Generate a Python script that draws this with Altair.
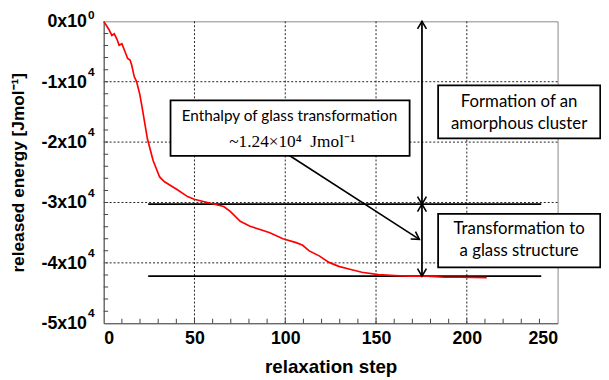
import altair as alt
import pandas as pd

# ---- curve ----
steps = [0, 2.7, 4.5, 5.8, 7.2, 8.5, 10, 11.8, 13.2, 14.5,
         15.4, 16.8, 18.1, 19.9, 21.2, 22.7, 24.1, 27.2, 30.8, 33.5,
         40.8, 46.2, 49.8, 58.9, 66.1, 69.7, 75.2, 80.6, 86.1, 91.5,
         98.7, 106, 109.6, 113.2, 118.7, 124.1, 129.5, 135, 142.2, 151.3,
         160.3, 169.4, 178.4, 187.5, 196.5, 211]
energy = [0, -1260, -2340, -2070, -2890, -3970, -3700, -5070, -6160, -6420,
          -7240, -9150, -9970, -12140, -14330, -17040, -19490, -23040, -25770, -26580,
          -27940, -29030, -29460, -30120, -30670, -31480, -33120, -33930, -34480, -35020,
          -36000, -36650, -37090, -38020, -38840, -39920, -40580, -41010, -41560, -41940,
          -42100, -42210, -42210, -42380, -42380, -42430]

# ---- axes ----
x_label_values = [0, 50, 100, 150, 200, 250]
y_label_values = [0, -10000, -20000, -30000, -40000, -50000]
y_label_base = ["0x10", "-1x10", "-2x10", "-3x10", "-4x10", "-5x10"]
y_label_exp = ["0", "4", "4", "4", "4", "4"]
x_grid = [50, 100, 150, 200]
y_grid = [-10000, -20000, -30000, -40000]
x_minor = list(range(10, 250, 10))
y_minor = list(range(-48000, 0, 2000))
x_title = "relaxation step"
y_title = "released energy [Jmol⁻¹]"

# ---- annotations ----
level_values = [-30280, -42210]
level_start = [24.5, 24.5]
level_end = [241, 241]
shaft_step = [175.3, 175.3]
shaft_from = [0, -30280]
shaft_to = [-30280, -42210]
head_steps = [175.3, 175.3, 175.3, 175.3, 173.9]
head_energy = [0, -30280, -30280, -42210, -36110]
head_angles = [0, 180, 0, 180, 122.8]
diag_x = [102.3]
diag_y = [-22220]
diag_x2 = [173.9]
diag_y2 = [-36110]

box_x1 = [36.8, 184.2, 184.2]
box_x2 = [168.5, 273.5, 273.5]
box_y1 = [-13100, -10620, -31900]
box_y2 = [-22270, -19400, -40740]

small_text = ["Enthalpy of glass transformation"]
small_x = [102.3]
small_y = [-16500]
big_text = ["Formation of an", "amorphous cluster", "Transformation to", "a glass structure"]
big_x = [228.8, 228.8, 228.8, 228.8]
big_y = [-14220, -17810, -35290, -38940]
serif_text = ["~1.24×10⁴\u00a0\u00a0Jmol⁻¹"]
serif_x = [103.8]
serif_y = [-20870]

xs = alt.Scale(domain=[0, 250], nice=False, zero=False)
ys = alt.Scale(domain=[-50000, 0], nice=False)

x_axis = alt.Axis(values=x_label_values, ticks=False, grid=False,
                  labelFontSize=18, labelFontWeight="bold", labelFont="Liberation Sans",
                  labelColor="black", labelPadding=7, domainColor="#555",
                  titleFontSize=19, titleFontWeight="bold", titleFont="Liberation Sans",
                  titleColor="black", titleBaseline="alphabetic", titleY=50)
y_axis = alt.Axis(values=y_label_values, ticks=False, grid=False, labels=False,
                  domainColor="#555",
                  titleFontSize=17.5, titleFontWeight="bold", titleFont="Liberation Sans",
                  titleColor="black", titleBaseline="alphabetic", titleX=-81, titleY=153)


def X(f):
    return alt.X(f, scale=xs, axis=x_axis, title=x_title)


def Y(f):
    return alt.Y(f, scale=ys, axis=y_axis, title=y_title)


curve_df = pd.DataFrame({"step": steps, "energy": energy})
ylab_df = pd.DataFrame({"y": y_label_values, "b": y_label_base, "e": y_label_exp})

xgrid = alt.Chart(pd.DataFrame({"x": x_grid})).mark_rule(
    color="#222", strokeWidth=1, strokeDash=[2, 2]
).encode(x=X("x:Q"))
ygrid = alt.Chart(pd.DataFrame({"y": y_grid})).mark_rule(
    color="#222", strokeWidth=1, strokeDash=[2, 2]
).encode(y=Y("y:Q"))

xticks = alt.Chart(pd.DataFrame({"x": x_minor})).mark_tick(
    orient="vertical", size=9, thickness=1, color="#444", clip=True, opacity=1
).encode(x=X("x:Q"), y=alt.datum(-50000))
yticks = alt.Chart(pd.DataFrame({"y": y_minor})).mark_tick(
    orient="horizontal", size=9, thickness=1, color="#444", clip=True, opacity=1
).encode(y=Y("y:Q"), x=alt.datum(0))

ylab_base = alt.Chart(ylab_df).mark_text(
    font="Liberation Sans", fontWeight="bold", fontSize=18, color="black",
    align="right", baseline="middle", dx=-17, dy=1
).encode(y=Y("y:Q"), x=alt.datum(0), text="b:N")
ylab_exp = alt.Chart(ylab_df).transform_filter("datum.y < 0").mark_text(
    font="Liberation Sans", fontWeight="bold", fontSize=12, color="black",
    align="left", baseline="middle", dx=-16, dy=-10
).encode(y=Y("y:Q"), x=alt.datum(0), text="e:N")
ylab_exp_top = alt.Chart(ylab_df).transform_filter("datum.y == 0").mark_text(
    font="Liberation Sans", fontWeight="bold", fontSize=12, color="black",
    align="left", baseline="middle", dx=-16, dy=-6
).encode(y=Y("y:Q"), x=alt.datum(0), text="e:N")

levels = alt.Chart(pd.DataFrame({"a": level_start, "b": level_end, "y": level_values})).mark_rule(
    color="black", strokeWidth=1.8
).encode(x=X("a:Q"), x2="b:Q", y=Y("y:Q"))

curve = alt.Chart(curve_df).mark_line(color="#ff0000", strokeWidth=1.7).encode(
    x=X("step:Q"), y=Y("energy:Q")
)

shafts = alt.Chart(pd.DataFrame({"x": shaft_step, "a": shaft_from, "b": shaft_to})).mark_rule(
    color="black", strokeWidth=1.8
).encode(x=X("x:Q"), y=Y("a:Q"), y2="b:Q")

diag = alt.Chart(pd.DataFrame({"x": diag_x, "y": diag_y, "x2": diag_x2, "y2": diag_y2})).mark_rule(
    color="black", strokeWidth=1.6
).encode(x=X("x:Q"), y=Y("y:Q"), x2="x2:Q", y2="y2:Q")

heads = alt.Chart(pd.DataFrame({"x": head_steps, "y": head_energy, "a": head_angles})).mark_point(
    shape="M-1,1.7L0,0L1,1.7", filled=False, stroke="black", strokeWidth=1.6, size=81, opacity=1
).encode(x=X("x:Q"), y=Y("y:Q"), angle=alt.Angle("a:Q", scale=None))

boxes = alt.Chart(pd.DataFrame({"x": box_x1, "x2": box_x2, "y": box_y1, "y2": box_y2})).mark_rect(
    fill="white", stroke="black", strokeWidth=1.8
).encode(x=X("x:Q"), x2="x2:Q", y=Y("y:Q"), y2="y2:Q")

t_small = alt.Chart(pd.DataFrame({"x": small_x, "y": small_y, "t": small_text})).mark_text(
    font="Lato", fontSize=15.5, color="black", align="center", baseline="alphabetic"
).encode(x=X("x:Q"), y=Y("y:Q"), text="t:N")
t_big = alt.Chart(pd.DataFrame({"x": big_x, "y": big_y, "t": big_text})).mark_text(
    font="Lato", fontSize=17, color="black", align="center", baseline="alphabetic"
).encode(x=X("x:Q"), y=Y("y:Q"), text="t:N")
t_serif = alt.Chart(pd.DataFrame({"x": serif_x, "y": serif_y, "t": serif_text})).mark_text(
    font="Liberation Serif", fontSize=17.5, color="black", align="center", baseline="alphabetic"
).encode(x=X("x:Q"), y=Y("y:Q"), text="t:N")

chart = alt.layer(
    xgrid, ygrid, xticks, yticks, ylab_base, ylab_exp, ylab_exp_top, levels, curve, shafts,
    diag, heads, boxes, t_small, t_big, t_serif
).properties(
    width=460, height=306,
    autosize=alt.AutoSizeParams(type="none"),
    padding={"left": 97, "top": 11, "right": 44, "bottom": 55},
    background="white",
).configure_view(stroke="#888", strokeWidth=1)

chart.save("out.html", embed_options={"renderer": "svg", "actions": False})
